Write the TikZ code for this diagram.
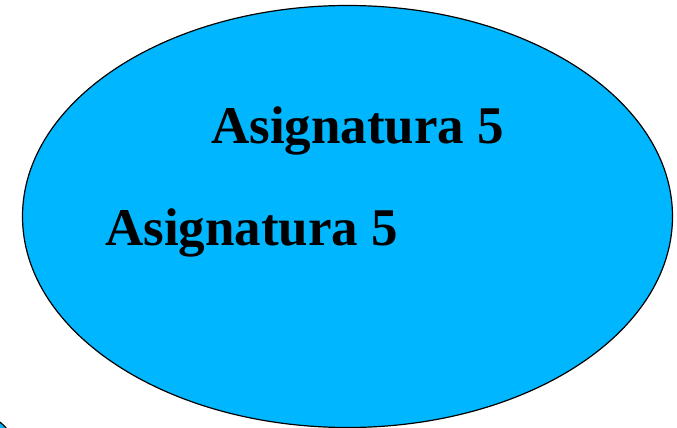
\documentclass[tikz,border=0pt]{standalone}
\usepackage{fontspec}
\setmainfont{Liberation Serif}
\definecolor{skyfill}{RGB}{0,183,255}
\tikzset{
  blob/.style={draw=black, line width=1.2pt, fill=skyfill},
  label/.style={font=\fontsize{53}{60}\selectfont\bfseries, text=black, inner sep=0pt, anchor=base west}
}
\begin{document}
\begin{tikzpicture}[x=1pt,y=-1pt]
\useasboundingbox (0,0) rectangle (677,428);
\begin{scope}
\clip (0,0) rectangle (677,428);
\draw[blob] (-30,460) circle [radius=48.3pt];
\draw[blob] (347.5,216.5) ellipse [x radius=325pt, y radius=211pt];
\end{scope}
\coordinate (ell) at (347.5,216.5);
\node[label] (t1) at (211,143) {Asignatura 5};
\node[label] (t2) at (105,245) {Asignatura 5};
\end{tikzpicture}
\end{document}
